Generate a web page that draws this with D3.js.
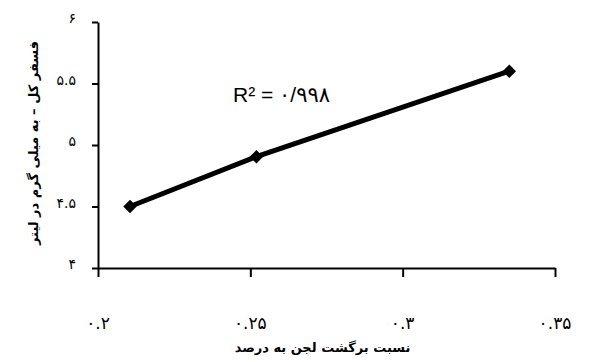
<!DOCTYPE html>
<html lang="fa">
<head>
<meta charset="UTF-8">
<title>نسبت برگشت لجن</title>
<script src="https://d3js.org/d3.v7.min.js"></script>
<style>
    body { margin: 0; background: #fff; }
    svg { display: block; }
    .tick-label { font-family: "DejaVu Sans", sans-serif; fill: #000; }
    .axis-title { font-family: "DejaVu Sans", sans-serif; font-weight: bold; fill: #000; }
</style>
</head>
<body>
<svg id="chart" width="602" height="362"></svg>
<script>
    // data
    const ratio = [0.2105, 0.252, 0.335];
    const phosphorus = [4.5, 4.905, 5.6];
    const xTicks = [0.2, 0.25, 0.3, 0.35];
    const xTickLabels = ['۰.۲', '۰.۲۵', '۰.۳', '۰.۳۵'];
    const yTicks = [4, 4.5, 5, 5.5, 6];
    const yTickLabels = ['۴', '۴.۵', '۵', '۵.۵', '۶'];
    const r2Label = 'R² = ۰/۹۹۸';
    const xTitle = 'نسبت برگشت لجن به درصد';
    const yTitle = 'فسفر کل – به میلی گرم در لیتر';

    const svg = d3.select('#chart');
    const plotLeft = 98, plotRight = 555, plotTop = 22, plotBottom = 268;

    const x = d3.scaleLinear().domain([0.2, 0.35]).range([plotLeft, plotRight]);
    const y = d3.scaleLinear().domain([4, 6]).range([plotBottom, plotTop]);

    // axes
    const xAxis = svg.append('g')
        .attr('transform', `translate(0,${plotBottom})`)
        .call(d3.axisBottom(x).tickValues(xTicks).tickSize(9).tickSizeOuter(0).tickFormat(''));
    const yAxis = svg.append('g')
        .attr('transform', `translate(${plotLeft},0)`)
        .call(d3.axisLeft(y).tickValues(yTicks).tickSize(6).tickSizeOuter(0).tickFormat(''));
    [xAxis, yAxis].forEach(a => {
        a.selectAll('path, line').attr('stroke', '#000').attr('stroke-width', 2);
    });

    // tick labels
    svg.append('g').selectAll('text')
        .data(xTicks)
        .enter().append('text')
        .attr('class', 'tick-label')
        .attr('x', d => x(d))
        .attr('y', 329)
        .attr('text-anchor', 'middle')
        .attr('font-size', '17px')
        .text((d, i) => xTickLabels[i]);

    svg.append('g').selectAll('text')
        .data(yTicks)
        .enter().append('text')
        .attr('class', 'tick-label')
        .attr('x', 76)
        .attr('y', d => y(d) + 1)
        .attr('text-anchor', 'end')
        .attr('font-size', '14px')
        .text((d, i) => yTickLabels[i]);

    // series
    const points = ratio.map((r, i) => [r, phosphorus[i]]);
    svg.append('path')
        .datum(points)
        .attr('fill', 'none')
        .attr('stroke', '#000')
        .attr('stroke-width', 5)
        .attr('d', d3.line().x(d => x(d[0])).y(d => y(d[1])));

    svg.append('g').selectAll('path')
        .data(points)
        .enter().append('path')
        .attr('transform', d => `translate(${x(d[0])},${y(d[1])})`)
        .attr('d', d3.symbol().type(d3.symbolDiamond2).size(115))
        .attr('fill', '#000');

    // r squared
    svg.append('text')
        .attr('x', 233)
        .attr('y', 102)
        .attr('font-family', 'Arial, "Liberation Sans", "DejaVu Sans", sans-serif')
        .attr('font-size', '21px')
        .attr('direction', 'ltr')
        .text(r2Label);

    // titles
    svg.append('text')
        .attr('class', 'axis-title')
        .attr('x', (plotLeft + plotRight) / 2 - 4)
        .attr('y', 352)
        .attr('text-anchor', 'middle')
        .attr('font-size', '13px')
        .text(xTitle);

    svg.append('text')
        .attr('class', 'axis-title')
        .attr('transform', 'translate(38,143) rotate(-90)')
        .attr('text-anchor', 'middle')
        .attr('font-size', '13px')
        .text(yTitle);
</script>
</body>
</html>
